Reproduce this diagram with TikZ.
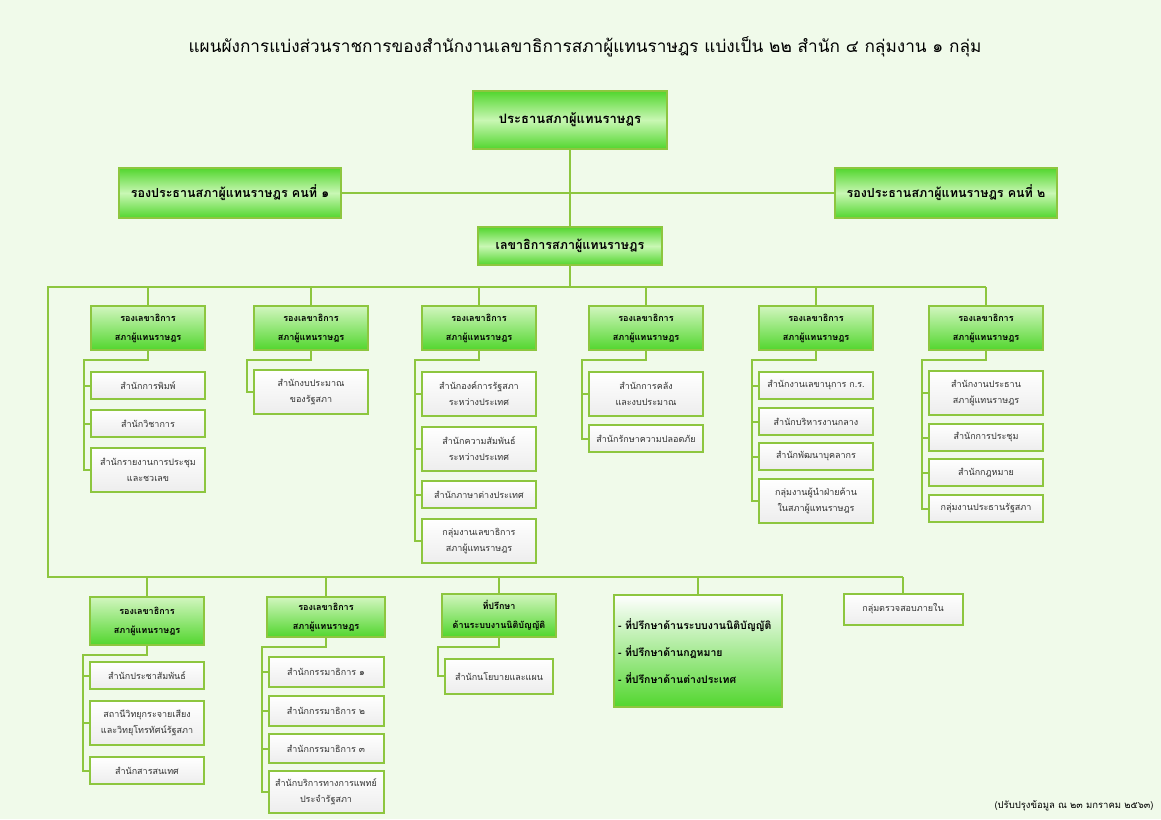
\documentclass[tikz,border=0pt]{standalone}
\usepackage{fontspec}
\newfontfamily\thaifont[Script=Thai]{Loma}
\usetikzlibrary{positioning}
\definecolor{linegreen}{HTML}{8DC63F}
\definecolor{pagebg}{HTML}{F0FAEA}
\definecolor{headtop}{HTML}{D2F6BF}
\definecolor{headbot}{HTML}{52D62E}
\definecolor{topmid}{HTML}{C9F7B4}
\definecolor{unitbot}{HTML}{EDEDED}

\begin{document}
\begin{tikzpicture}[x=1pt, y=-1pt, node distance=7pt,
    conn/.style={draw=linegreen, line width=2pt},
    head/.style={draw=linegreen, line width=2pt, top color=headtop, bottom color=headbot,
      font=\thaifont\bfseries\fontsize{9}{19}\selectfont, align=center,
      text width=106pt, inner xsep=4pt, inner ysep=1pt, minimum height=44pt},
    topbox/.style={head, top color=headbot, bottom color=headbot, middle color=topmid,
      font=\thaifont\bfseries\fontsize{12.5}{15}\selectfont},
    unit/.style={draw=linegreen, line width=2pt, top color=white, bottom color=unitbot,
      font=\thaifont\fontsize{9}{16}\selectfont, text=black!80, align=center,
      text width=106pt, inner xsep=4pt, inner ysep=1pt, minimum height=27pt},
    unit2/.style={unit, minimum height=44pt}]

  \path[use as bounding box, fill=pagebg] (0,0) rectangle (1161,819);

  \node[font=\thaifont\fontsize{17.2}{20}\selectfont] (title) at (585,47)
    {แผนผังการแบ่งส่วนราชการของสำนักงานเลขาธิการสภาผู้แทนราษฎร แบ่งเป็น ๒๒ สำนัก ๔ กลุ่มงาน ๑ กลุ่ม};

  % top level
  \node[topbox, text width=186pt, minimum height=58pt,
    font=\thaifont\bfseries\fontsize{13}{15}\selectfont] (chair) at (570,120) {ประธานสภาผู้แทนราษฎร};
  \node[topbox, text width=214pt, minimum height=50pt] (vp1) at (230,193) {รองประธานสภาผู้แทนราษฎร คนที่ ๑};
  \node[topbox, text width=214pt, minimum height=50pt] (vp2) at (946,193) {รองประธานสภาผู้แทนราษฎร คนที่ ๒};
  \node[topbox, text width=176pt, minimum height=38pt] (sg) at (570,246) {เลขาธิการสภาผู้แทนราษฎร};

  \draw[conn] (chair.south) -- (sg.north);
  \draw[conn] (vp1.east) -- (vp2.west);

  % deputy secretaries, upper row
  \foreach \n/\x in {1/148,2/311,3/479,4/646,5/816,6/986}
    \node[head] (h\n) at (\x,328) {รองเลขาธิการ\\สภาผู้แทนราษฎร};

  \node[unit, below=20pt of h1] (c11) {สำนักการพิมพ์};
  \node[unit, below=9pt of c11] (c12) {สำนักวิชาการ};
  \node[unit2, below=9pt of c12] (c13) {สำนักรายงานการประชุม\\และชวเลข};

  \node[unit2, below=18pt of h2] (c21) {สำนักงบประมาณ\\ของรัฐสภา};

  \node[unit2, below=20pt of h3] (c31) {สำนักองค์การรัฐสภา\\ระหว่างประเทศ};
  \node[unit2, below=9pt of c31] (c32) {สำนักความสัมพันธ์\\ระหว่างประเทศ};
  \node[unit, below=8pt of c32] (c33) {สำนักภาษาต่างประเทศ};
  \node[unit2, below=9pt of c33] (c34) {กลุ่มงานเลขาธิการ\\สภาผู้แทนราษฎร};

  \node[unit2, below=20pt of h4] (c41) {สำนักการคลัง\\และงบประมาณ};
  \node[unit, below=7pt of c41] (c42) {สำนักรักษาความปลอดภัย};

  \node[unit, below=20pt of h5] (c51) {สำนักงานเลขานุการ ก.ร.};
  \node[unit, below=7pt of c51] (c52) {สำนักบริหารงานกลาง};
  \node[unit, below=6pt of c52] (c53) {สำนักพัฒนาบุคลากร};
  \node[unit2, below=7pt of c53] (c54) {กลุ่มงานผู้นำฝ่ายค้าน\\ในสภาผู้แทนราษฎร};

  \node[unit2, below=19pt of h6] (c61) {สำนักงานประธาน\\สภาผู้แทนราษฎร};
  \node[unit, below=7pt of c61] (c62) {สำนักการประชุม};
  \node[unit, below=6pt of c62] (c63) {สำนักกฎหมาย};
  \node[unit, below=7pt of c63] (c64) {กลุ่มงานประธานรัฐสภา};

  % lower row
  \node[head, minimum height=48pt] (b1) at (147,621) {รองเลขาธิการ\\สภาผู้แทนราษฎร};
  \node[head, minimum height=40pt, text width=110pt] (b2) at (326,617) {รองเลขาธิการ\\สภาผู้แทนราษฎร};
  \node[head, minimum height=43pt] (b3) at (499,615) {ที่ปรึกษา\\ด้านระบบงานนิติบัญญัติ};
  \node[head, top color=white, bottom color=headbot, align=left, text width=160pt,
    minimum height=112pt, font=\thaifont\bfseries\fontsize{10.5}{27}\selectfont] (b4) at (698,651)
    {- ที่ปรึกษาด้านระบบงานนิติบัญญัติ\\- ที่ปรึกษาด้านกฎหมาย\\- ที่ปรึกษาด้านต่างประเทศ};
  \node[unit, text width=111pt, minimum height=31pt] (b5) at (903,609) {กลุ่มตรวจสอบภายใน};

  \node[unit, below=15pt of b1] (d11) {สำนักประชาสัมพันธ์};
  \node[unit2, below=10pt of d11] (d12) {สถานีวิทยุกระจายเสียง\\และวิทยุโทรทัศน์รัฐสภา};
  \node[unit, below=10pt of d12] (d13) {สำนักสารสนเทศ};

  \node[unit, text width=107pt, minimum height=30pt, below=18pt of b2] (d21) {สำนักกรรมาธิการ ๑};
  \node[unit, text width=107pt, minimum height=30pt, below=7pt of d21] (d22) {สำนักกรรมาธิการ ๒};
  \node[unit, text width=107pt, minimum height=29pt, below=6pt of d22] (d23) {สำนักกรรมาธิการ ๓};
  \node[unit2, text width=107pt, minimum height=42pt, below=6pt of d23] (d24) {สำนักบริการทางการแพทย์\\ประจำรัฐสภา};

  \node[unit, text width=100pt, minimum height=35pt, below=20pt of b3] (d31) {สำนักนโยบายและแผน};

  % main buses
  \coordinate (busL) at (48,287);
  \coordinate (busR) at (986,287);
  \coordinate (botL) at (48,577);
  \coordinate (botR) at (903,577);
  \draw[conn] (sg.south) -- (sg.south |- busL);
  \draw[conn] (botR) -- (botL) -- (busL) -- (busR);
  \foreach \n in {1,...,6}
    \draw[conn] (h\n.north) -- (h\n.north |- busL);
  \foreach \b in {b1,b2,b3,b4,b5}
    \draw[conn] (\b.north) -- (\b.north |- botL);

  % head to units
  \foreach \h/\last/\others in {h1/c13/{c11,c12}, h3/c34/{c31,c32,c33}, h4/c42/{c41},
      h5/c54/{c51,c52,c53}, h6/c64/{c61,c62,c63}, b1/d13/{d11,d12}, b2/d24/{d21,d22,d23}} {
    \draw[conn] (\h.south) -- ++(0,9) -| ([xshift=-6pt]\last.west) -- (\last.west);
    \foreach \c in \others
      \draw[conn] (\c.west) -- ++(-6,0);
  }
  \draw[conn] (h2.south) -- ++(0,9) -| ([xshift=-6pt]c21.west) -- (c21.west);
  \draw[conn] (b3.south) -- ++(0,9) -| ([xshift=-6pt]d31.west) -- (d31.west);

  \node[anchor=east, font=\thaifont\fontsize{9.5}{11}\selectfont] (note) at (1157,806)
    {(ปรับปรุงข้อมูล ณ ๒๓ มกราคม ๒๕๖๓)};
\end{tikzpicture}
\end{document}
